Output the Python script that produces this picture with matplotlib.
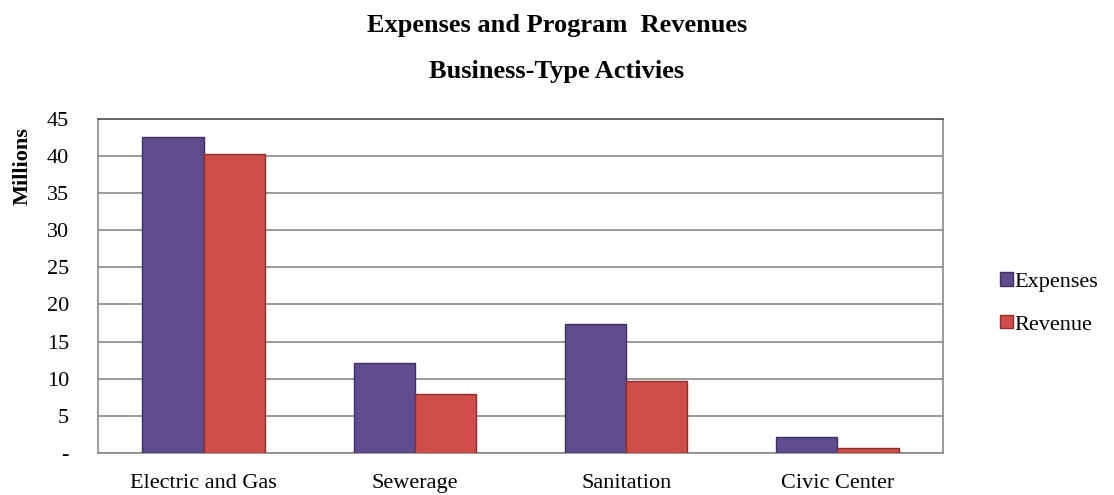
import matplotlib
matplotlib.use("Agg")
import matplotlib.pyplot as plt
import numpy as np

categories = ["Electric and Gas", "Sewerage", "Sanitation", "Civic Center"]
expenses = [42.6, 12.1, 17.4, 2.2]
revenue = [40.3, 8.0, 9.7, 0.7]
yticks = [0, 5, 10, 15, 20, 25, 30, 35, 40, 45]
ytick_labels = ["-", "5", "10", "15", "20", "25", "30", "35", "40", "45"]

plt.rcParams["font.family"] = ["Liberation Serif", "DejaVu Serif"]

fig = plt.figure(figsize=(11.14, 4.95), dpi=100)
ax = fig.add_axes([0.088, 0.085, 0.7585, 0.675])

x = np.arange(len(categories))
w = 0.29
ax.bar(x - w / 2, expenses, w, color="#5E4C8E", edgecolor="#3E2F63",
       linewidth=1, label="Expenses", zorder=3)
ax.bar(x + w / 2, revenue, w, color="#CF4E4A", edgecolor="#8E2E2B",
       linewidth=1, label="Revenue", zorder=3)

ax.set_xlim(-0.5, len(categories) - 0.5)
ax.set_ylim(0, 45)
ax.set_yticks(yticks)
ax.set_yticklabels(ytick_labels, fontsize=16)
ax.set_xticks(x)
ax.set_xticklabels(categories, fontsize=16)
ax.tick_params(axis="both", length=0)
ax.tick_params(axis="y", pad=21)
ax.tick_params(axis="x", pad=15)
ax.yaxis.grid(True, color="#8a8a8a", linewidth=1.2, zorder=0)
for s in ax.spines.values():
    s.set_color("#8a8a8a")
    s.set_linewidth(1.2)
ax.spines["top"].set_color("#555555")

fig.text(0.02, 0.665, "Millions", rotation=90, fontsize=16,
         fontweight="bold", ha="center", va="center")

fig.text(0.5, 0.948, "Expenses and Program  Revenues", fontsize=19,
         fontweight="bold", ha="center", va="center")
fig.text(0.5, 0.855, "Business-Type Activies", fontsize=19,
         fontweight="bold", ha="center", va="center")

fig.legend(loc="center left", bbox_to_anchor=(0.88, 0.387), frameon=False,
           fontsize=16, handlelength=0.55, handleheight=0.55,
           handletextpad=0.1, labelspacing=1.05)

fig.savefig("out.png", dpi=100)
